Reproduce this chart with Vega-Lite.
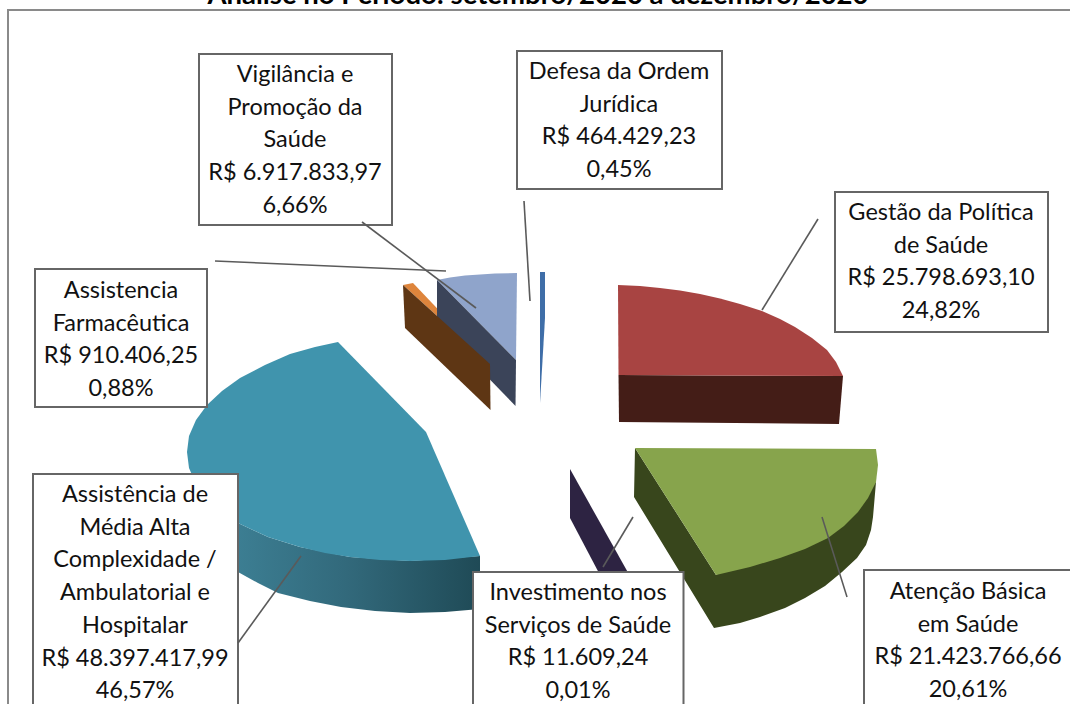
{"$schema":"https://vega.github.io/schema/vega-lite/v6.json","width":1070,"height":704,"padding":0,"autosize":{"type":"none"},"background":"white","config":{"view":{"stroke":null}},
"datasets":{
"shapes":[
{"p":"farmTop","i":0,"x":403,"y":285},{"p":"farmTop","i":1,"x":413,"y":283},{"p":"farmTop","i":2,"x":490,"y":364},
{"p":"vigTop","i":0,"x":437,"y":280},{"p":"vigTop","i":1,"x":450,"y":277.5},{"p":"vigTop","i":2,"x":465,"y":275.5},{"p":"vigTop","i":3,"x":480,"y":274.5},{"p":"vigTop","i":4,"x":495,"y":273.5},{"p":"vigTop","i":5,"x":517,"y":273},{"p":"vigTop","i":6,"x":516,"y":360},
{"p":"vigSide","i":0,"x":437,"y":280},{"p":"vigSide","i":1,"x":516,"y":360},{"p":"vigSide","i":2,"x":515.5,"y":406},{"p":"vigSide","i":3,"x":437,"y":325},
{"p":"farmSide","i":0,"x":403,"y":285},{"p":"farmSide","i":1,"x":490,"y":364},{"p":"farmSide","i":2,"x":490.5,"y":410},{"p":"farmSide","i":3,"x":405,"y":328},
{"p":"def","i":0,"x":540,"y":272},{"p":"def","i":1,"x":545,"y":272},{"p":"def","i":2,"x":545,"y":318},{"p":"def","i":3,"x":540,"y":403},
{"p":"gesSide","i":0,"x":618.5,"y":375},{"p":"gesSide","i":1,"x":843,"y":376},{"p":"gesSide","i":2,"x":839,"y":424},{"p":"gesSide","i":3,"x":619,"y":422},
{"p":"gesTop","i":0,"x":618,"y":285},{"p":"gesTop","i":1,"x":640,"y":286},{"p":"gesTop","i":2,"x":660,"y":288},{"p":"gesTop","i":3,"x":680,"y":290.5},{"p":"gesTop","i":4,"x":700,"y":294},{"p":"gesTop","i":5,"x":720,"y":298.5},{"p":"gesTop","i":6,"x":740,"y":304},{"p":"gesTop","i":7,"x":762,"y":311},{"p":"gesTop","i":8,"x":780,"y":319},{"p":"gesTop","i":9,"x":795,"y":327},{"p":"gesTop","i":10,"x":812,"y":338},{"p":"gesTop","i":11,"x":827,"y":350},{"p":"gesTop","i":12,"x":836,"y":362},{"p":"gesTop","i":13,"x":843,"y":376},{"p":"gesTop","i":14,"x":618.5,"y":375},
{"p":"ateSide","i":0,"x":635,"y":448},{"p":"ateSide","i":1,"x":634,"y":497},{"p":"ateSide","i":2,"x":714,"y":628},{"p":"ateSide","i":3,"x":740,"y":623},{"p":"ateSide","i":4,"x":760,"y":617},{"p":"ateSide","i":5,"x":785,"y":608},{"p":"ateSide","i":6,"x":805,"y":598},{"p":"ateSide","i":7,"x":825,"y":586},{"p":"ateSide","i":8,"x":842,"y":572},{"p":"ateSide","i":9,"x":857,"y":558},{"p":"ateSide","i":10,"x":866,"y":545},{"p":"ateSide","i":11,"x":871,"y":530},{"p":"ateSide","i":12,"x":873,"y":517},{"p":"ateSide","i":13,"x":876,"y":482},{"p":"ateSide","i":14,"x":716,"y":575},
{"p":"ateTop","i":0,"x":635,"y":448},{"p":"ateTop","i":1,"x":876,"y":449},{"p":"ateTop","i":2,"x":878,"y":465},{"p":"ateTop","i":3,"x":876,"y":482},{"p":"ateTop","i":4,"x":868,"y":498},{"p":"ateTop","i":5,"x":858,"y":512},{"p":"ateTop","i":6,"x":844,"y":526},{"p":"ateTop","i":7,"x":828,"y":538},{"p":"ateTop","i":8,"x":805,"y":549},{"p":"ateTop","i":9,"x":780,"y":558},{"p":"ateTop","i":10,"x":750,"y":567},{"p":"ateTop","i":11,"x":716,"y":575},
{"p":"inv","i":0,"x":570,"y":469},{"p":"inv","i":1,"x":640,"y":594},{"p":"inv","i":2,"x":610,"y":594},{"p":"inv","i":3,"x":570,"y":518},
{"p":"medTop","i":0,"x":338,"y":342},{"p":"medTop","i":1,"x":315,"y":347},{"p":"medTop","i":2,"x":290,"y":354},{"p":"medTop","i":3,"x":265,"y":365},{"p":"medTop","i":4,"x":240,"y":378},{"p":"medTop","i":5,"x":222,"y":391},{"p":"medTop","i":6,"x":207,"y":405},{"p":"medTop","i":7,"x":196,"y":420},{"p":"medTop","i":8,"x":189,"y":436},{"p":"medTop","i":9,"x":187,"y":452},{"p":"medTop","i":10,"x":189,"y":468},{"p":"medTop","i":11,"x":196,"y":484},{"p":"medTop","i":12,"x":208,"y":498},{"p":"medTop","i":13,"x":222,"y":511},{"p":"medTop","i":14,"x":238,"y":523},{"p":"medTop","i":15,"x":268,"y":537},{"p":"medTop","i":16,"x":300,"y":547},{"p":"medTop","i":17,"x":325,"y":553},{"p":"medTop","i":18,"x":350,"y":557},{"p":"medTop","i":19,"x":380,"y":560},{"p":"medTop","i":20,"x":410,"y":561},{"p":"medTop","i":21,"x":445,"y":560},{"p":"medTop","i":22,"x":480,"y":556},{"p":"medTop","i":23,"x":426,"y":432}
],
"gradSide":[
{"i":0,"x":215,"y":505},{"i":1,"x":238,"y":523},{"i":2,"x":268,"y":537},{"i":3,"x":300,"y":547},{"i":4,"x":350,"y":557},{"i":5,"x":410,"y":561},{"i":6,"x":480,"y":556},{"i":7,"x":480,"y":609},{"i":8,"x":445,"y":612},{"i":9,"x":410,"y":613},{"i":10,"x":375,"y":611},{"i":11,"x":341,"y":607},{"i":12,"x":310,"y":601},{"i":13,"x":278,"y":593},{"i":14,"x":258,"y":583},{"i":15,"x":238,"y":572},{"i":16,"x":215,"y":555}
],
"leaders":[
{"l":"vig","i":0,"x":362,"y":222},{"l":"vig","i":1,"x":476,"y":308},
{"l":"farm","i":0,"x":215,"y":261},{"l":"farm","i":1,"x":446,"y":271},
{"l":"def","i":0,"x":524,"y":201},{"l":"def","i":1,"x":530,"y":301},
{"l":"ges","i":0,"x":818,"y":219},{"l":"ges","i":1,"x":762,"y":310},
{"l":"med","i":0,"x":238,"y":643},{"l":"med","i":1,"x":301,"y":556},
{"l":"inv","i":0,"x":633,"y":517},{"l":"inv","i":1,"x":603,"y":567},
{"l":"ate","i":0,"x":822,"y":517},{"l":"ate","i":1,"x":847,"y":597}
],
"boxes":[
{"x0":199,"x1":392,"y0":54,"y1":225,"cx":295,"cy":75,"t":"Vigilância e\nPromoção da\nSaúde\nR$ 6.917.833,97\n6,66%"},
{"x0":517,"x1":722,"y0":51,"y1":189,"cx":619,"cy":72,"t":"Defesa da Ordem\nJurídica\nR$ 464.429,23\n0,45%"},
{"x0":835,"x1":1048,"y0":192,"y1":332,"cx":941,"cy":213,"t":"Gestão da Política\nde Saúde\nR$ 25.798.693,10\n24,82%"},
{"x0":35,"x1":207,"y0":269,"y1":407,"cx":121,"cy":291,"t":"Assistencia\nFarmacêutica\nR$ 910.406,25\n0,88%"},
{"x0":33,"x1":238,"y0":474,"y1":730,"cx":135,"cy":495,"t":"Assistência de\nMédia  Alta\nComplexidade /\nAmbulatorial e\nHospitalar\nR$ 48.397.417,99\n46,57%"},
{"x0":473,"x1":683.5,"y0":572,"y1":730,"cx":578,"cy":593,"t":"Investimento nos\nServiços de Saúde\nR$ 11.609,24\n0,01%"},
{"x0":864,"x1":1090,"y0":570,"y1":730,"cx":968,"cy":592,"t":"Atenção Básica\nem Saúde\nR$ 21.423.766,66\n20,61%"}
],
"frame":[{"x0":8,"x1":1090,"y0":10,"y1":730}],
"title":[{"x":538,"y":-4,"t":"Análise no Período: setembro/2020 a dezembro/2020"}]
},
"encoding":{
"x":{"field":"x","type":"quantitative","scale":{"domain":[0,1070],"nice":false,"zero":false},"axis":null},
"y":{"field":"y","type":"quantitative","scale":{"domain":[0,704],"reverse":true,"nice":false,"zero":false},"axis":null}
},
"layer":[
{"data":{"name":"frame"},"mark":{"type":"rect","fill":"white","stroke":"#8a8a8a","strokeWidth":2},"encoding":{"x":{"field":"x0","type":"quantitative"},"x2":{"field":"x1"},"y":{"field":"y0","type":"quantitative"},"y2":{"field":"y1"}}},
{"data":{"name":"title"},"mark":{"type":"text","font":"Lato","fontWeight":"bold","fontSize":27.5,"align":"center","baseline":"middle","color":"#000"},"encoding":{"text":{"field":"t"}}},
{"data":{"name":"gradSide"},"mark":{"type":"line","strokeWidth":0,"fill":{"x1":0,"y1":0,"x2":1,"y2":0,"gradient":"linear","stops":[{"offset":0,"color":"#3e8297"},{"offset":0.5,"color":"#32697b"},{"offset":1,"color":"#1f4a56"}]}},"encoding":{"order":{"field":"i","type":"quantitative"}}},
{"data":{"name":"shapes"},"mark":{"type":"line","strokeWidth":0,"interpolate":"linear"},"encoding":{"detail":{"field":"p"},"order":{"field":"i","type":"quantitative"},"fill":{"field":"p","type":"nominal","legend":null,"scale":{"domain":["farmTop","farmSide","vigTop","vigSide","def","gesSide","gesTop","ateSide","ateTop","inv","medTop"],"range":["#de853c","#5e3614","#8fa4cb","#3b4459","#3f6ea8","#441d17","#a84442","#38461c","#87a44c","#2d2342","#4094ad"]}}}},
{"data":{"name":"boxes"},"mark":{"type":"rect","fill":"white","stroke":"#666666","strokeWidth":2},"encoding":{"x":{"field":"x0","type":"quantitative"},"x2":{"field":"x1"},"y":{"field":"y0","type":"quantitative"},"y2":{"field":"y1"}}},
{"data":{"name":"leaders"},"mark":{"type":"line","stroke":"#5a5a5a","strokeWidth":1.6},"encoding":{"detail":{"field":"l"},"order":{"field":"i","type":"quantitative"}}},
{"data":{"name":"boxes"},"mark":{"type":"text","font":"Lato","fontSize":23.5,"lineBreak":"\n","lineHeight":32.7,"align":"center","baseline":"middle","color":"#111"},"encoding":{"x":{"field":"cx","type":"quantitative"},"y":{"field":"cy","type":"quantitative"},"text":{"field":"t"}}}
]}
